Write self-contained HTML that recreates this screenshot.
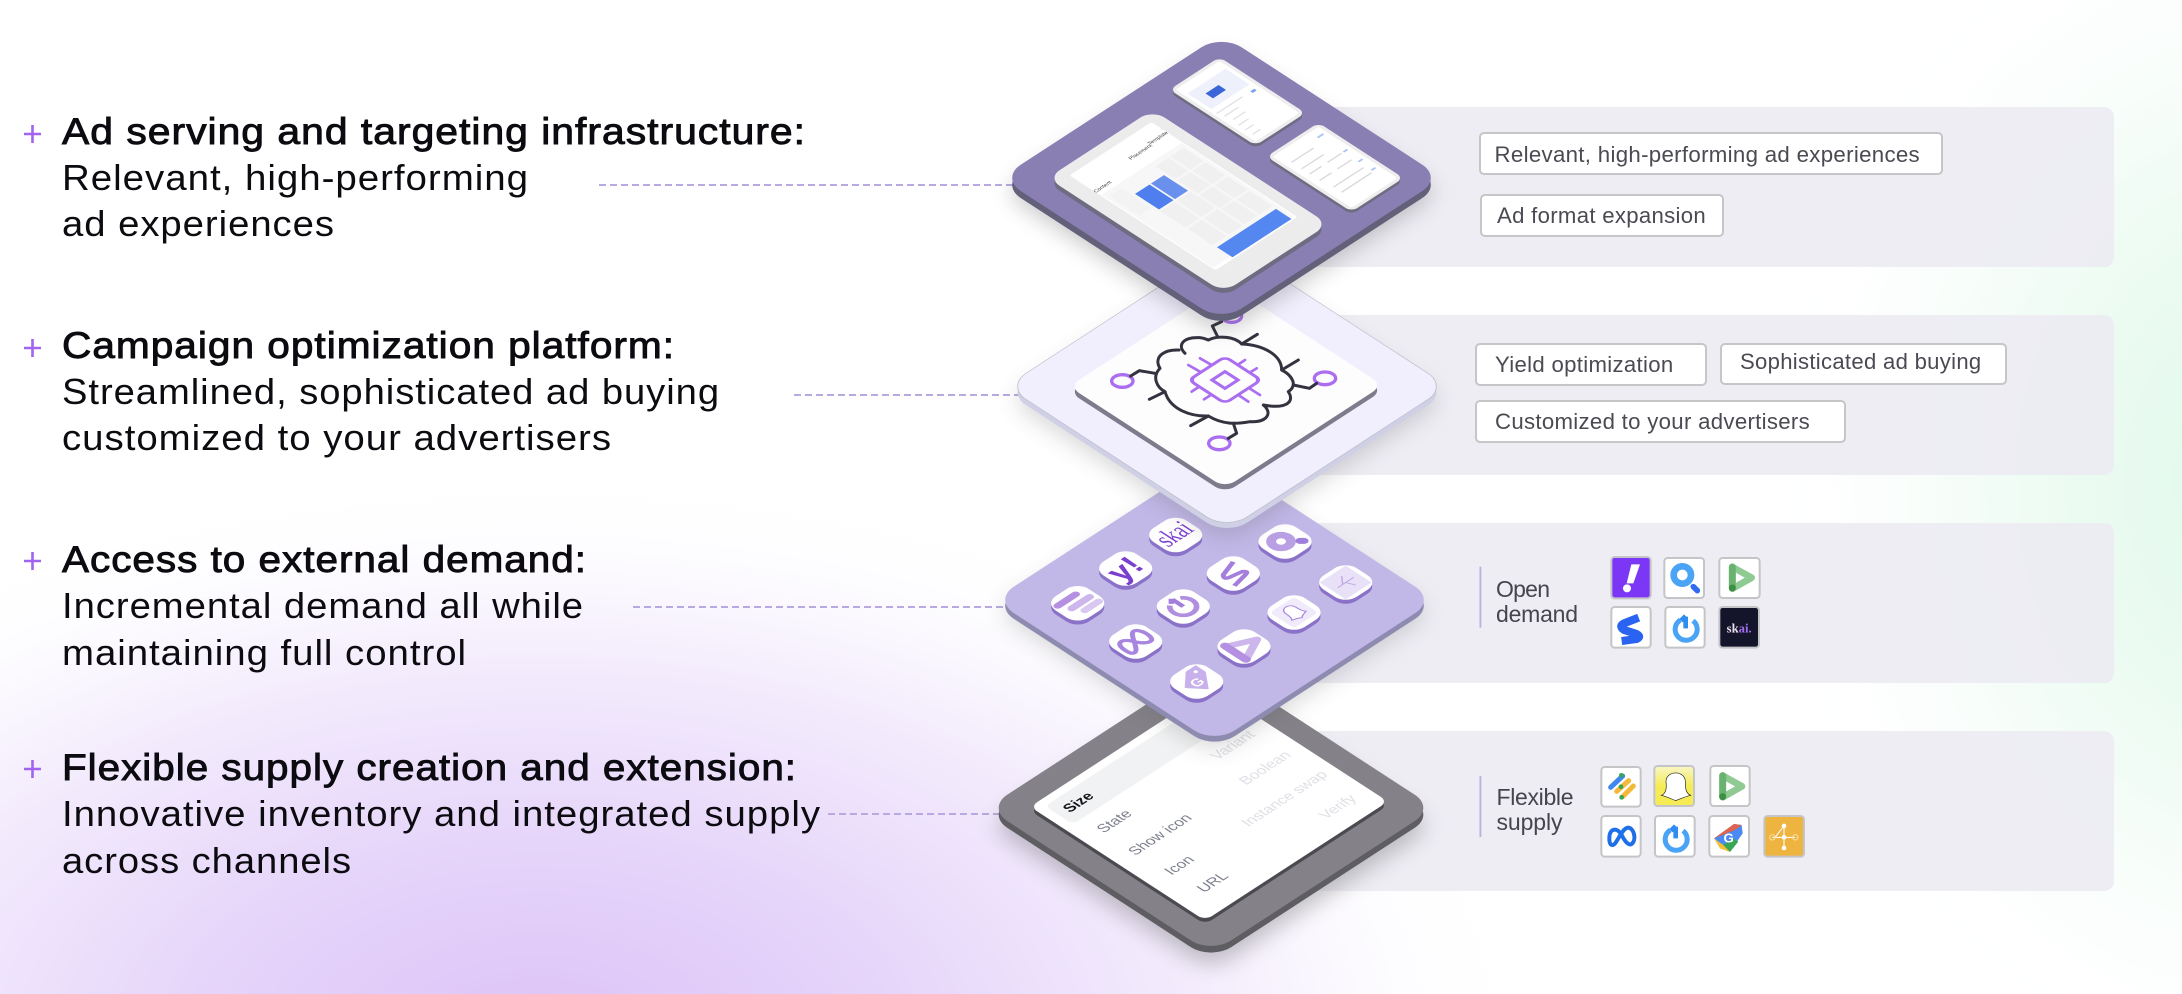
<!DOCTYPE html>
<html><head><meta charset="utf-8"><style>
html,body{margin:0;padding:0;background:#fff;width:2182px;height:994px;overflow:hidden}
svg{display:block}
.h{font:400 37px "Liberation Sans",sans-serif;letter-spacing:.9px;fill:#0b0b10;stroke:#0b0b10;stroke-width:.9}
.b{font:400 36px "Liberation Sans",sans-serif;letter-spacing:.9px;fill:#0b0b10}
.c{font:400 22px "Liberation Sans",sans-serif;letter-spacing:.3px;fill:#4a4a52}
.l{font:400 23px "Liberation Sans",sans-serif;fill:#45454d}
.k{font:400 12.5px "Liberation Sans",sans-serif;text-anchor:middle;dominant-baseline:central;fill:#7b7e8c}
.r{fill:#dfe0e5}
.t{font:400 4.6px "Liberation Sans",sans-serif;fill:#444}
</style></head><body>
<svg width="2182" height="994" viewBox="0 0 2182 994" xmlns="http://www.w3.org/2000/svg">
<defs>
<radialGradient id="pu" gradientUnits="userSpaceOnUse" cx="0" cy="0" r="1" gradientTransform="translate(540 1040) scale(1000 570)">
<stop offset="0" stop-color="#dcc3f8"/><stop offset=".35" stop-color="#e6d5fa"/><stop offset=".7" stop-color="#f5effd"/><stop offset="1" stop-color="#fff" stop-opacity="0"/></radialGradient>
<radialGradient id="gr" gradientUnits="userSpaceOnUse" cx="0" cy="0" r="1" gradientTransform="translate(2270 480) scale(520 640)">
<stop offset="0" stop-color="#dff8ea"/><stop offset=".5" stop-color="#f0fcf5"/><stop offset="1" stop-color="#fff" stop-opacity="0"/></radialGradient>
<filter id="s" filterUnits="userSpaceOnUse" x="0" y="0" width="2182" height="994"><feGaussianBlur stdDeviation="11"/></filter>
<linearGradient id="sn" x1="0" y1="0" x2="0" y2="1"><stop offset="0" stop-color="#f8f6c8"/><stop offset=".5" stop-color="#f5ec55"/></linearGradient>
<g id="tile"><rect x="-16.5" y="-16.5" width="33" height="33" rx="11"/></g>
<g id="play"><path d="M0 0 L58 32 L0 65" fill="none" stroke="#8fca92" stroke-width="20" stroke-linejoin="round" stroke-linecap="round"/><path d="M0 0 V62" stroke="#69b26f" stroke-width="21" stroke-linecap="round"/><circle cx="0" cy="63" r="10.5" fill="#3d8f46"/></g>
<g id="pow"><path d="M22 -26 A33 33 0 1 1 -16 -28" fill="none" stroke="#4aa3f5" stroke-width="15"/><path d="M0 -3 V-38 M-14 -26 L0 -40" fill="none" stroke="#2f8cf0" stroke-width="14"/></g>
</defs>
<rect width="2182" height="994" fill="#fff"/>
<rect width="2182" height="994" fill="url(#gr)"/>
<rect width="2182" height="994" fill="url(#pu)"/>

<!-- panels -->
<g fill="#ecebf3" fill-opacity=".88">
<rect x="1290" y="107" width="824" height="160" rx="10"/>
<rect x="1290" y="315" width="824" height="160" rx="10"/>
<rect x="1290" y="523" width="824" height="160" rx="10"/>
<rect x="1290" y="731" width="824" height="160" rx="10"/>
</g>

<!-- chips -->
<g fill="#fff" stroke="#c6c6c8" stroke-width="2">
<rect x="1480" y="133" width="462" height="41" rx="4"/>
<rect x="1481" y="195" width="242" height="41" rx="4"/>
<rect x="1476" y="344" width="230" height="41" rx="4"/>
<rect x="1721" y="344" width="285" height="40" rx="4"/>
<rect x="1476" y="401" width="369" height="41" rx="4"/>
</g>
<text class="c" x="1494.5" y="162" textLength="425.5" lengthAdjust="spacingAndGlyphs">Relevant, high-performing ad experiences</text>
<text class="c" x="1497" y="223" textLength="209" lengthAdjust="spacingAndGlyphs">Ad format expansion</text>
<text class="c" x="1495" y="372" textLength="178.5" lengthAdjust="spacingAndGlyphs">Yield optimization</text>
<text class="c" x="1740" y="369" textLength="241.5" lengthAdjust="spacingAndGlyphs">Sophisticated ad buying</text>
<text class="c" x="1495" y="429" textLength="315" lengthAdjust="spacingAndGlyphs">Customized to your advertisers</text>

<!-- left text -->
<g stroke="#a264f0" stroke-width="2.6">
<path d="M24 134H41M32.5 125V143"/><path d="M24 348H41M32.5 339V357"/><path d="M24 561H41M32.5 552V570"/><path d="M24 769H41M32.5 760V778"/>
</g>
<text class="h" x="62" y="144" textLength="744" lengthAdjust="spacingAndGlyphs">Ad serving and targeting infrastructure:</text>
<text class="b" x="62" y="190" textLength="467" lengthAdjust="spacingAndGlyphs">Relevant, high-performing</text>
<text class="b" x="62" y="236" textLength="273" lengthAdjust="spacingAndGlyphs">ad experiences</text>
<text class="h" x="62" y="358" textLength="613" lengthAdjust="spacingAndGlyphs">Campaign optimization platform:</text>
<text class="b" x="62" y="404" textLength="658" lengthAdjust="spacingAndGlyphs">Streamlined, sophisticated ad buying</text>
<text class="b" x="62" y="450" textLength="550" lengthAdjust="spacingAndGlyphs">customized to your advertisers</text>
<text class="h" x="62" y="572" textLength="525" lengthAdjust="spacingAndGlyphs">Access to external demand:</text>
<text class="b" x="62" y="618" textLength="522" lengthAdjust="spacingAndGlyphs">Incremental demand all while</text>
<text class="b" x="62" y="665" textLength="405" lengthAdjust="spacingAndGlyphs">maintaining full control</text>
<text class="h" x="62" y="780" textLength="735" lengthAdjust="spacingAndGlyphs">Flexible supply creation and extension:</text>
<text class="b" x="62" y="826" textLength="759" lengthAdjust="spacingAndGlyphs">Innovative inventory and integrated supply</text>
<text class="b" x="62" y="873" textLength="290" lengthAdjust="spacingAndGlyphs">across channels</text>

<!-- dashes -->
<g stroke="#b8aae0" stroke-width="2" stroke-dasharray="7 4" fill="none">
<path d="M599 185H1020"/><path d="M794 395H1025"/><path d="M633 607H1012"/><path d="M828 814H1005"/>
</g>

<!-- LAYER 4 -->
<g filter="url(#s)" opacity=".3"><rect width="224" height="224" rx="20" transform="matrix(1,.65,-1,.65,1211,680)" fill="#444"/></g>
<rect width="224" height="224" rx="20" transform="matrix(1,.65,-1,.65,1211,669)" fill="#5e5d62"/>
<rect width="224" height="224" rx="20" transform="matrix(1,.65,-1,.65,1211,662.3)" fill="#848288"/>
<g transform="matrix(1,.65,-1,.65,1211,664.4)">
<rect x="19" y="17" width="175" height="183" rx="7" fill="#4b4a50" transform="translate(3,3)"/>
<rect x="19" y="17" width="175" height="183" rx="7" fill="#fff"/>
<rect x="26" y="30" width="28" height="162" rx="5" fill="#f1f2f3"/>
</g>
<g>
<text class="k" style="fill:#15151a;font-weight:700" transform="matrix(1,-.65,1,.65,1079,802.7)">Size</text>
<text class="k" transform="matrix(1,-.65,1,.65,1115,821.7)">State</text>
<text class="k" transform="matrix(1,-.65,1,.65,1160.7,835)">Show icon</text>
<text class="k" transform="matrix(1,-.65,1,.65,1180,865.7)">Icon</text>
<text class="k" transform="matrix(1,-.65,1,.65,1213.3,882.7)">URL</text>
<text class="k r" transform="matrix(1,-.65,1,.65,1233.3,745.7)">Variant</text>
<text class="k r" transform="matrix(1,-.65,1,.65,1265.7,768.3)">Boolean</text>
<text class="k r" transform="matrix(1,-.65,1,.65,1285,799)">Instance swap</text>
<text class="k r" transform="matrix(1,-.65,1,.65,1338.3,807.3)">Verify</text>
</g>

<!-- LAYER 3 -->
<g filter="url(#s)" opacity=".22"><rect width="221" height="221" rx="20" transform="matrix(1,.65,-1,.65,1214.5,468)" fill="#555"/></g>
<rect width="221" height="221" rx="20" transform="matrix(1,.65,-1,.65,1214.5,462)" fill="#8e8bb0"/>
<rect width="221" height="221" rx="20" transform="matrix(1,.65,-1,.65,1214.5,456.2)" fill="#c2b8e8"/>
<!-- tile shadows -->
<g fill="#8a72c8">
<use href="#tile" transform="matrix(1,-.65,1,.65,1175.7,539)"/>
<use href="#tile" transform="matrix(1,-.65,1,.65,1125.7,572.5)"/>
<use href="#tile" transform="matrix(1,-.65,1,.65,1077.7,607.3)"/>
<use href="#tile" transform="matrix(1,-.65,1,.65,1285,545.5)"/>
<use href="#tile" transform="matrix(1,-.65,1,.65,1233.3,577.5)"/>
<use href="#tile" transform="matrix(1,-.65,1,.65,1183.3,610.5)"/>
<use href="#tile" transform="matrix(1,-.65,1,.65,1135.7,645.5)"/>
<use href="#tile" transform="matrix(1,-.65,1,.65,1345.7,586.5)"/>
<use href="#tile" transform="matrix(1,-.65,1,.65,1294,616.5)"/>
<use href="#tile" transform="matrix(1,-.65,1,.65,1244,650.5)"/>
<use href="#tile" transform="matrix(1,-.65,1,.65,1196.7,685.5)"/>
</g>
<!-- tiles -->
<g>
<g transform="matrix(1,-.65,1,.65,1175.7,535)"><use href="#tile" fill="#fff"/><text x="0" y="6" text-anchor="middle" font-family="Liberation Serif,serif" font-size="24" fill="#7b3fd0" textLength="27" lengthAdjust="spacingAndGlyphs">skai</text></g>
<g transform="matrix(1,-.65,1,.65,1125.7,568.5)"><use href="#tile" fill="#fff"/><text x="-1" y="9" text-anchor="middle" font-family="Liberation Sans,sans-serif" font-weight="700" font-size="27" fill="#7b3fd0">y!</text></g>
<g transform="matrix(1,-.65,1,.65,1077.7,603.3)"><use href="#tile" fill="#fff"/><g stroke-width="6" stroke-linecap="round"><path d="M-12 -8H6" stroke="#b48fe2"/><path d="M-7 1H11" stroke="#cdb6ec"/><path d="M-2 9H12" stroke="#d9c8f2"/></g></g>
<g transform="matrix(1,-.65,1,.65,1285,541.5)"><use href="#tile" fill="#fff"/><circle cx="-2" cy="-2" r="7" fill="none" stroke="#b9a0e4" stroke-width="7"/><path d="M8 7L10 9" stroke="#9f7fdc" stroke-width="6.5" stroke-linecap="round"/></g>
<g transform="matrix(1,-.65,1,.65,1233.3,573.5)"><use href="#tile" fill="#fff"/><path d="M9 -9L-6 -4Q-10 0 -5 1L6 3Q10 6 5 7L-9 10" fill="none" stroke="#a57fdc" stroke-width="3.6"/></g>
<g transform="matrix(1,-.65,1,.65,1183.3,606.5)"><use href="#tile" fill="#fff"/><path d="M5 -8 A9.5 9.5 0 1 1 -6 -7.5" fill="none" stroke="#b08fe0" stroke-width="4"/><path d="M0 0V-11M-4 -8L0 -12" fill="none" stroke="#a27fdc" stroke-width="3.8"/></g>
<g transform="matrix(1,-.65,1,.65,1135.7,641.5)"><use href="#tile" fill="#fff"/><path d="M-12 1C-12 -8 -6 -10 -2 -3C2 6 6 8 9 7C13 4 12 -8 7 -9C2 -9 -4 8 -9 8C-12 8 -12 4 -12 1Z" fill="none" stroke="#a885e0" stroke-width="3.5"/></g>
<g transform="matrix(1,-.65,1,.65,1345.7,582.5)"><use href="#tile" fill="#fff"/><rect x="-13" y="-13" width="26" height="26" fill="#e9e1f8"/><g fill="none" stroke="#c0a8e8" stroke-width="1"><path d="M-8 0H8M-3 0L3 -7M0 0L3 7"/></g></g>
<g transform="matrix(1,-.65,1,.65,1294,612.5)"><use href="#tile" fill="#fff"/><rect x="-12" y="-12" width="24" height="24" rx="3" fill="#f0eafb"/><path d="M-7 5C-5 3 -5 -1 -5 -3C-5 -10 5 -10 5 -3C5 -1 5 3 7 5C4 6 2 6 0 8C-2 6 -4 6 -7 5Z" fill="#fff" stroke="#9f7ddc" stroke-width=".9"/></g>
<g transform="matrix(1,-.65,1,.65,1244,646.5)"><use href="#tile" fill="#fff"/><path d="M-9 -9L12 1L-9 11" fill="none" stroke="#cdb6ec" stroke-width="6" stroke-linejoin="round"/><path d="M-9 -10V11" stroke="#b48fe2" stroke-width="7" stroke-linecap="round"/></g>
<g transform="matrix(1,-.65,1,.65,1196.7,681.5)"><use href="#tile" fill="#fff"/><path d="M-11 -1L2 -13H12V-3L0 12Z" fill="#c8b0ea"/><circle cx="7" cy="-8" r="1.6" fill="#fff"/><text x="-.5" y="5" font-family="Liberation Sans,sans-serif" font-weight="700" font-size="12" text-anchor="middle" fill="#fff">G</text></g>
</g>

<!-- LAYER 2 -->
<g filter="url(#s)" opacity=".22"><rect width="221" height="221" rx="20" transform="matrix(1,.65,-1,.65,1227,256)" fill="#555"/></g>
<rect width="221" height="221" rx="20" transform="matrix(1,.65,-1,.65,1227,248.4)" fill="#cfcfe5"/>
<rect width="221" height="221" rx="20" transform="matrix(1,.65,-1,.65,1227,242.7)" fill="#f1effd" stroke="#bdbdc8" stroke-width=".6"/>
<rect x="30" y="30" width="156" height="158" rx="10" transform="matrix(1,.65,-1,.65,1227,250)" fill="#7d7b8c"/>
<rect x="30" y="30" width="156" height="158" rx="10" transform="matrix(1,.65,-1,.65,1227,244.8)" fill="#fdfdfe"/>
<g transform="translate(980,270) scale(.33333)" fill="none" stroke-linecap="round" stroke-linejoin="round">
<g stroke="#ab6ef0" stroke-width="10">
<ellipse cx="755" cy="138" rx="30" ry="19"/>
<ellipse cx="427" cy="333" rx="32" ry="19"/><ellipse cx="1035" cy="325" rx="32" ry="19"/><ellipse cx="718" cy="520" rx="32" ry="19"/>
</g>
<g stroke="#ab6ef0" stroke-width="8">
<path d="M660 265L695 285M625 285L660 305M795 270L765 290M830 295L800 313M635 365L665 345M672 388L700 370M840 375L805 353M805 395L775 375"/>
</g>
<g stroke="#33323f" stroke-width="9">
<path d="M615 250C590 225 610 200 660 203C672 204 680 208 685 210C715 195 765 200 785 222C850 225 905 255 905 300C935 315 955 345 925 365C945 395 920 418 850 405C880 430 860 458 810 455C770 462 730 465 685 438C635 440 570 420 555 365C530 352 515 320 540 295C520 262 550 238 597 240"/>
<path d="M785 222L832 193M905 300L955 270M555 365L508 388M685 438L632 467"/>
<path d="M712 198L697 168L725 155M525 310L478 302L452 318M940 345L988 355L1010 340M760 460L770 490L745 505"/>
</g></g>
<g transform="matrix(1,-.65,1,.65,1225,380)" fill="none" stroke="#ab6ef0">
<rect x="-18" y="-18" width="36" height="36" rx="5" stroke-width="2.8" fill="#fdfdfe"/>
<rect x="-6.5" y="-6.5" width="13" height="13" stroke-width="2.8"/>
</g>

<!-- LAYER 1 -->
<g filter="url(#s)" opacity=".28"><rect width="221" height="221" rx="20" transform="matrix(1,.65,-1,.65,1221.5,48)" fill="#444"/></g>
<rect width="221" height="221" rx="20" transform="matrix(1,.65,-1,.65,1221.5,41.2)" fill="#63607a"/>
<rect width="221" height="221" rx="20" transform="matrix(1,.65,-1,.65,1221.5,34.2)" fill="#8a7fb3"/>
<!-- tablet / phones sides -->
<g fill="#6e6c80">
<rect x="22" y="91" width="176" height="105" rx="12" transform="matrix(1,.65,-1,.65,1221.5,41.3)"/>
<rect x="15" y="17" width="86" height="50" rx="6" transform="matrix(1,.65,-1,.65,1221.5,39.3)"/>
<rect x="115" y="18" width="85" height="52" rx="6" transform="matrix(1,.65,-1,.65,1221.5,39.3)"/>
</g>
<g transform="matrix(1,.65,-1,.65,1221.5,36.3)">
<rect x="22" y="91" width="176" height="105" rx="12" fill="#ececec"/>
<rect x="31" y="101" width="146" height="82" rx="2" fill="#fff"/>
<rect x="62" y="102" width="112" height="80" fill="#f7f7f7"/>
<g fill="#f0f0f0">
<rect x="67" y="105" width="20" height="13"/><rect x="89" y="105" width="20" height="13"/><rect x="111" y="105" width="20" height="13"/><rect x="133" y="105" width="23" height="13"/>
<rect x="67" y="120" width="20" height="13"/><rect x="89" y="120" width="20" height="13"/><rect x="111" y="120" width="20" height="13"/><rect x="133" y="120" width="23" height="13"/>
<rect x="104" y="135" width="25" height="14"/><rect x="131" y="135" width="25" height="14"/><rect x="104" y="151" width="25" height="14"/><rect x="131" y="151" width="25" height="14"/>
<rect x="67" y="167" width="30" height="12" fill="#f3f3f3"/>
</g>
<rect x="78" y="135.5" width="24" height="13" fill="#6a90ee"/>
<rect x="78" y="150" width="24" height="14.5" fill="#4f7fee"/>
<rect x="160" y="105.5" width="15.5" height="59" fill="#5487ef"/>
<!-- phone 1 -->
<rect x="15" y="17" width="86" height="50" rx="6" fill="#eeeeee"/>
<rect x="18" y="20" width="80" height="44" rx="2" fill="#fff"/>
<rect x="27" y="23" width="24" height="38" fill="#eef1fb"/>
<rect x="36" y="39" width="7.5" height="13" fill="#3a66d8"/>
<g stroke="#dcdce2" stroke-width="1"><path d="M57 36V62M63 46V60M70 46V58M77 50V60M84 52V60M91 52V60"/></g>
<path d="M58 24V28" stroke="#7aa2f0" stroke-width="2.5"/>
<!-- phone 2 -->
<rect x="115" y="18" width="85" height="52" rx="6" fill="#eeeeee"/>
<rect x="118" y="21" width="79" height="46" rx="2" fill="#fff"/>
<g stroke="#d8d8de" stroke-width="1.2"><path d="M132 40V62M142 40V62M150 30V44M150 50V62M160 30V44M160 50V62M172 30V60M180 30V60"/></g>
<g stroke="#a9c3f3" stroke-width="1.6"><path d="M126 24V30M150 24V28M165 24V28M178 24V28"/></g>
</g>
<text class="t" transform="matrix(1,-.65,1,.65,1131,160)">Placement</text>
<text class="t" transform="matrix(1,-.65,1,.65,1150,145)">Template</text>
<text class="t" transform="matrix(1,-.65,1,.65,1096,193)" font-weight="700">Content</text>

<!-- Panel 3 right -->
<rect x="1479.5" y="566.7" width="1.8" height="61" fill="#b8b0e0"/>
<text class="l" x="1496" y="597" textLength="54" lengthAdjust="spacing">Open</text>
<text class="l" x="1496" y="622" textLength="82" lengthAdjust="spacing">demand</text>
<g transform="translate(1440,520) scale(.33333)">
<g stroke="#c5c5c7" stroke-width="6">
<rect x="514" y="111" width="118" height="124" rx="10" fill="#7b37f5"/>
<rect x="673" y="114" width="119" height="120" rx="10" fill="#fff"/>
<rect x="838" y="114" width="121" height="120" rx="10" fill="#fff"/>
<rect x="514" y="261" width="118" height="122" rx="10" fill="#fff"/>
<rect x="676" y="261" width="118" height="122" rx="10" fill="#fff"/>
<rect x="838" y="261" width="119" height="122" rx="10" fill="#14142a"/>
</g>
<path d="M574 133H600L580 190H560Z" fill="#fff"/><circle cx="561" cy="205" r="12" fill="#fff"/>
<circle cx="727" cy="165" r="26" fill="none" stroke="#4aa3f5" stroke-width="20"/><path d="M760 200L772 212" stroke="#2f6cf0" stroke-width="17" stroke-linecap="round"/>
<use href="#play" x="877" y="141"/>
<path d="M596 293L552 310Q535 318 552 330L590 342Q605 350 590 357L545 363" fill="none" stroke="#2a62f2" stroke-width="24"/>
<use href="#pow" x="737" y="328"/>
<text x="860" y="338" font-family="Liberation Serif,serif" font-size="38" font-weight="700" fill="#e6e0f0">sk<tspan fill="#a56ef0">ai</tspan><tspan fill="#a56ef0">.</tspan></text>
</g>

<!-- Panel 4 right -->
<rect x="1479.5" y="776" width="1.8" height="61" fill="#b8b0e0"/>
<text class="l" x="1496.5" y="805" textLength="77" lengthAdjust="spacing">Flexible</text>
<text class="l" x="1496.5" y="830" textLength="66" lengthAdjust="spacing">supply</text>
<g transform="translate(1440,730) scale(.33333)">
<g stroke="#c5c5c7" stroke-width="6">
<rect x="484" y="111" width="118" height="119" rx="10" fill="#fff"/>
<rect x="643" y="108" width="119" height="120" rx="10" fill="url(#sn)"/>
<rect x="811" y="108" width="118" height="120" rx="10" fill="#fff"/>
<rect x="484" y="258" width="118" height="122" rx="10" fill="#fff"/>
<rect x="645" y="258" width="119" height="122" rx="10" fill="#fff"/>
<rect x="808" y="258" width="119" height="122" rx="10" fill="#fff"/>
<rect x="973" y="258" width="119" height="122" rx="10" fill="#eeb440"/>
</g>
<g fill="none" stroke-width="15" stroke-linecap="round">
<path d="M512 172L548 138" stroke="#3f86ee"/><path d="M530 184L566 152" stroke="#f5b93a"/><path d="M548 200L580 168" stroke="#f5b93a"/>
</g>
<circle cx="544" cy="136" r="7" fill="#3aa655"/><circle cx="543" cy="170" r="7" fill="#3aa655"/><circle cx="545" cy="202" r="7" fill="#3aa655"/>
<path d="M664 196C680 190 680 170 678 155C678 120 736 120 736 155C736 170 736 190 752 196C735 200 725 205 707 212C690 205 680 200 664 196Z" fill="#fff" stroke="#222" stroke-width="2"/>
<use href="#play" x="848" y="137"/>
<path d="M508 325C508 295 530 290 545 315C560 345 570 345 575 342C590 330 583 295 565 293C545 293 530 345 518 345C510 345 508 335 508 325Z" fill="none" stroke="#1f6fe8" stroke-width="12"/>
<use href="#pow" x="707" y="328"/>
<path d="M822 325L882 282L905 285L908 310L870 365Z" fill="#4a8af4"/>
<path d="M822 325L882 282L905 285L885 300Z" fill="#e0634f"/>
<path d="M822 325L850 345L870 366L840 355Z" fill="#f5c034"/>
<path d="M850 345L870 366L895 335L880 325Z" fill="#3aa655"/>
<text x="866" y="338" font-family="Liberation Sans,sans-serif" font-weight="700" font-size="40" fill="#fff" text-anchor="middle">G</text>
<g stroke="#fff" stroke-width="3" fill="none"><path d="M997 322H1066M1032 288L1005 322M1032 322L1032 288M1032 322L1032 354"/><circle cx="997" cy="322" r="8" stroke="#f8dfa6"/><circle cx="1066" cy="322" r="8" stroke="#f8dfa6"/></g>
<g fill="#fff"><circle cx="1032" cy="288" r="7"/><circle cx="1032" cy="322" r="7"/><circle cx="1032" cy="354" r="7"/></g>
</g>
</svg>
</body></html>
